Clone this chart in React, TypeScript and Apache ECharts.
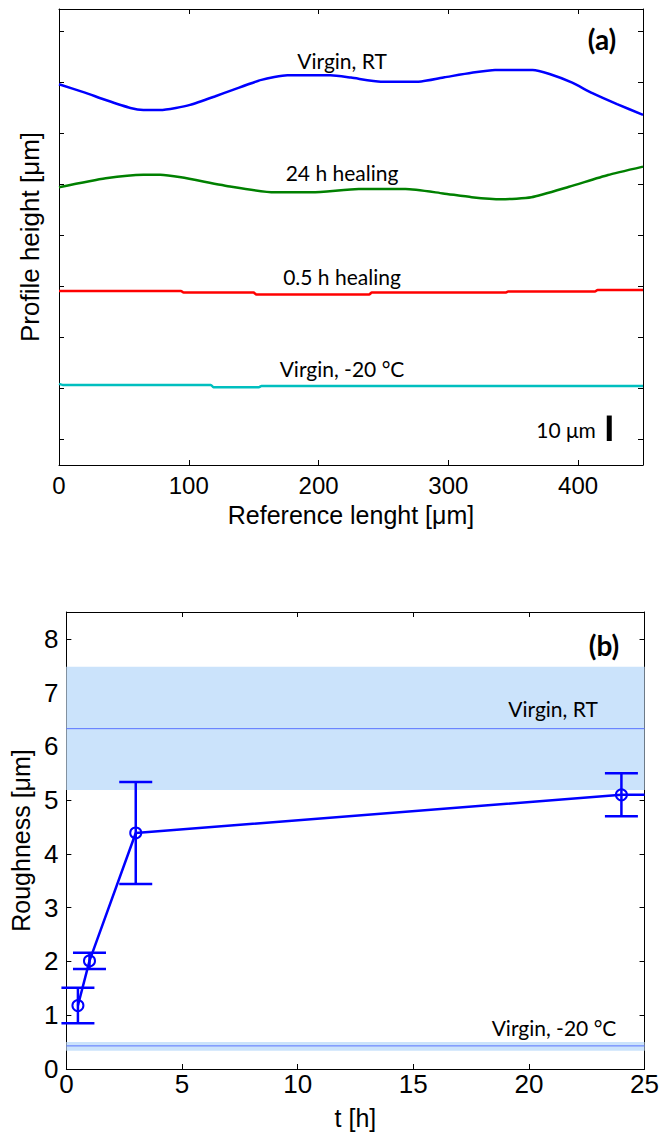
import React, { useEffect, useRef } from "react";
import * as echarts from "echarts";

// ---------- Panel (a): surface profiles (x in µm, height in µm, offset per curve) ----------
const virginRT: [number, number][] = [
  [0, 149.3], [20, 146], [36, 143.1], [55, 140], [65, 139.2], [78, 139.2], [90, 140], [101, 141.2],
  [120, 144.5], [134, 147.1], [156, 151], [176, 152.8], [209, 152.8], [225, 151.9], [248, 150.3],
  [277, 150.3], [297, 152], [318, 153.8], [336, 154.9], [365, 154.9], [378, 153.3], [395, 150],
  [411, 145.8], [430, 141.5], [450, 137.3],
];
const healing24: [number, number][] = [
  [0, 108.9], [36, 112.4], [65, 113.8], [78, 113.8], [94, 112.8], [133, 109.1], [166, 106.9],
  [195, 106.9], [231, 108.2], [267, 108.2], [296, 106.5], [318, 105], [341, 104.2], [364, 105],
  [393, 109.1], [423, 113.7], [450, 117],
];
const healing05: [number, number][] = [
  [0, 68.2], [94, 68.2], [96, 67.6], [150, 67.6], [152, 66.9], [239, 66.9], [241, 67.6],
  [344, 67.6], [346, 68.0], [413, 68.0], [415, 68.6], [450, 68.6],
];
const virginCold: [number, number][] = [
  [0, 31.8], [3, 31.4], [117, 31.4], [119, 30.5], [154, 30.5], [156, 31.0], [450, 31.0],
];
const profileNames = ["Virgin, RT", "24 h healing", "0.5 h healing", "Virgin, -20 °C"];
const profileColors = ["#0000ff", "#008000", "#ff0000", "#00bfbf"];
const xTicksA = [0, 100, 200, 300, 400];
const yTicksA = [10, 30, 50, 70, 90, 110, 130, 150, 170];
// scale bar: 10 µm
const scaleBar: [number, number, number] = [424, 9.4, 19.4];

// ---------- Panel (b): roughness vs healing time ----------
const times = [0.5, 1, 3, 24];
const roughness = [1.18, 2.01, 4.39, 5.1];
const roughErr = [0.33, 0.15, 0.95, 0.4];
const tail: [number, number] = [25, 5.1];
// reference bands: [mean, low, high]
const bandRT = [6.33, 5.19, 7.48];
const bandCold = [0.43, 0.34, 0.5];
const xTicksB = [0, 5, 10, 15, 20, 25];
const yTicksB = [0, 1, 2, 3, 4, 5, 6, 7, 8];

const AXIS_FONT = "Liberation Sans";
const NOTE_FONT = "Lato";

export default function App() {
  const ref = useRef<HTMLDivElement>(null);
  useEffect(() => {
    document.body.style.margin = "0";
    const chart = echarts.init(ref.current!, undefined, { renderer: "svg" });
    const tickStyle = { inside: true, length: 5, lineStyle: { color: "#000", width: 1 } };
    const axLine = { show: true, onZero: false, lineStyle: { color: "#000", width: 1 } };

    const profiles = [virginRT, healing24, healing05, virginCold];
    const note = (text: string, x: number, y: number, bold = false, size = 21) => ({
      type: "text",
      x,
      y,
      z: 100,
      style: {
        text,
        fill: "#000",
        fontSize: size,
        fontWeight: bold ? "bold" : "normal",
        fontFamily: NOTE_FONT,
        align: "center",
        verticalAlign: "middle",
      },
    });

    const option: any = {
      animation: false,
      backgroundColor: "#fff",
      grid: [
        { left: 59, top: 9, width: 584, height: 456 },
        { left: 62, top: 612, width: 584, height: 457 },
      ],
      xAxis: [
        {
          gridIndex: 0, type: "value", position: "bottom", min: 0, max: 450,
          axisLine: axLine,
          axisTick: { ...tickStyle, customValues: xTicksA },
          axisLabel: { customValues: xTicksA, color: "#000", fontSize: 24, fontFamily: AXIS_FONT, margin: 8 },
          splitLine: { show: false },
          name: "Reference lenght [μm]", nameLocation: "middle", nameGap: 37,
          nameTextStyle: { color: "#000", fontSize: 25, fontFamily: AXIS_FONT },
        },
        {
          gridIndex: 0, type: "value", position: "top", min: 0, max: 450,
          axisLine: axLine,
          axisTick: { ...tickStyle, customValues: xTicksA },
          axisLabel: { show: false },
          splitLine: { show: false },
        },
        {
          gridIndex: 1, type: "value", position: "bottom", min: 0, max: 25,
          axisLine: axLine,
          axisTick: { ...tickStyle, customValues: xTicksB },
          axisLabel: { customValues: xTicksB, color: "#000", fontSize: 26, fontFamily: AXIS_FONT, margin: 2 },
          splitLine: { show: false },
          name: "t [h]", nameLocation: "middle", nameGap: 36,
          nameTextStyle: { color: "#000", fontSize: 25, fontFamily: AXIS_FONT },
        },
        {
          gridIndex: 1, type: "value", position: "top", min: 0, max: 25,
          axisLine: axLine,
          axisTick: { ...tickStyle, customValues: xTicksB },
          axisLabel: { show: false },
          splitLine: { show: false },
        },
      ],
      yAxis: [
        {
          gridIndex: 0, type: "value", position: "left", min: 0, max: 178.8,
          axisLine: axLine,
          axisTick: { ...tickStyle, customValues: yTicksA },
          axisLabel: { show: false },
          splitLine: { show: false },
          name: "Profile height [μm]", nameLocation: "middle", nameGap: 16, nameRotate: 90,
          nameTextStyle: { color: "#000", fontSize: 26, fontFamily: AXIS_FONT },
        },
        {
          gridIndex: 0, type: "value", position: "right", min: 0, max: 178.8,
          axisLine: axLine,
          axisTick: { ...tickStyle, customValues: yTicksA },
          axisLabel: { show: false },
          splitLine: { show: false },
        },
        {
          gridIndex: 1, type: "value", position: "left", min: 0, max: 8.5,
          axisLine: axLine,
          axisTick: { ...tickStyle, customValues: yTicksB },
          axisLabel: { customValues: yTicksB, color: "#000", fontSize: 26, fontFamily: AXIS_FONT, margin: 8 },
          splitLine: { show: false },
          name: "Roughness [μm]", nameLocation: "middle", nameGap: 29, nameRotate: 90,
          nameTextStyle: { color: "#000", fontSize: 25, fontFamily: AXIS_FONT },
        },
        {
          gridIndex: 1, type: "value", position: "right", min: 0, max: 8.5,
          axisLine: axLine,
          axisTick: { ...tickStyle, customValues: yTicksB },
          axisLabel: { show: false },
          splitLine: { show: false },
        },
      ],
      series: [
        ...profiles.map((d, i) => ({
          type: "line",
          name: profileNames[i],
          xAxisIndex: 0, yAxisIndex: 0,
          data: d,
          showSymbol: false,
          symbol: "none",
          smooth: 0.2,
          lineStyle: { color: profileColors[i], width: 2.5 },
          z: 3,
        })),
        {
          type: "custom",
          name: "scale bar",
          xAxisIndex: 0, yAxisIndex: 0,
          data: [scaleBar],
          encode: { x: 0, y: [1, 2] },
          renderItem: (_p: any, api: any) => {
            const a = api.coord([api.value(0), api.value(1)]);
            const b = api.coord([api.value(0), api.value(2)]);
            return {
              type: "line",
              shape: { x1: a[0], y1: a[1], x2: b[0], y2: b[1] },
              style: { stroke: "#000", lineWidth: 5 },
            };
          },
          z: 4,
        },
        {
          type: "custom",
          name: "bands",
          xAxisIndex: 2, yAxisIndex: 2,
          data: [[0, ...bandRT], [0, ...bandCold]],
          encode: { x: 0, y: [1, 2, 3] },
          renderItem: (params: any, api: any) => {
            const cs = params.coordSys;
            const yM = api.coord([0, api.value(1)])[1];
            const yLo = api.coord([0, api.value(2)])[1];
            const yHi = api.coord([0, api.value(3)])[1];
            return {
              type: "group",
              children: [
                {
                  type: "rect",
                  shape: { x: cs.x, y: yHi, width: cs.width, height: yLo - yHi },
                  style: { fill: "#cbe3fb" },
                },
                {
                  type: "line",
                  shape: { x1: cs.x, y1: yM, x2: cs.x + cs.width, y2: yM },
                  style: { stroke: "#5a74ff", lineWidth: 1 },
                },
              ],
            };
          },
          z: 1,
        },
        {
          type: "custom",
          name: "error bars",
          xAxisIndex: 2, yAxisIndex: 2,
          data: times.map((t, i) => [t, roughness[i] - roughErr[i], roughness[i] + roughErr[i]]),
          encode: { x: 0, y: [1, 2] },
          renderItem: (_p: any, api: any) => {
            const lo = api.coord([api.value(0), api.value(1)]);
            const hi = api.coord([api.value(0), api.value(2)]);
            const h = 16.5;
            const st = { stroke: "#0000ff", lineWidth: 2.5 };
            return {
              type: "group",
              children: [
                { type: "line", shape: { x1: lo[0], y1: lo[1], x2: hi[0], y2: hi[1] }, style: st },
                { type: "line", shape: { x1: lo[0] - h, y1: lo[1], x2: lo[0] + h, y2: lo[1] }, style: st },
                { type: "line", shape: { x1: hi[0] - h, y1: hi[1], x2: hi[0] + h, y2: hi[1] }, style: st },
              ],
            };
          },
          z: 4,
        },
        {
          type: "line",
          name: "roughness",
          xAxisIndex: 2, yAxisIndex: 2,
          data: [
            ...times.map((t, i) => [t, roughness[i]]),
            { value: tail, symbol: "none" },
          ],
          symbol: "circle",
          symbolSize: 11,
          showSymbol: true,
          itemStyle: { color: "rgba(255,255,255,0)", borderColor: "#0000ff", borderWidth: 2 },
          lineStyle: { color: "#0000ff", width: 2.5 },
          z: 5,
        },
      ],
      graphic: [
        ...profileNames.map((n, i) => note(n, 342, [60, 172, 276, 368][i])),
        note("(a)", 602, 39, true, 28),
        note("10 μm", 566, 429),
        note("(b)", 604, 645, true, 28),
        note("Virgin, RT", 553, 708),
        note("Virgin, -20 °C", 554, 1027),
      ],
    };
    chart.setOption(option);
    return () => chart.dispose();
  }, []);
  return <div ref={ref} style={{ width: 662, height: 1132 }} />;
}
